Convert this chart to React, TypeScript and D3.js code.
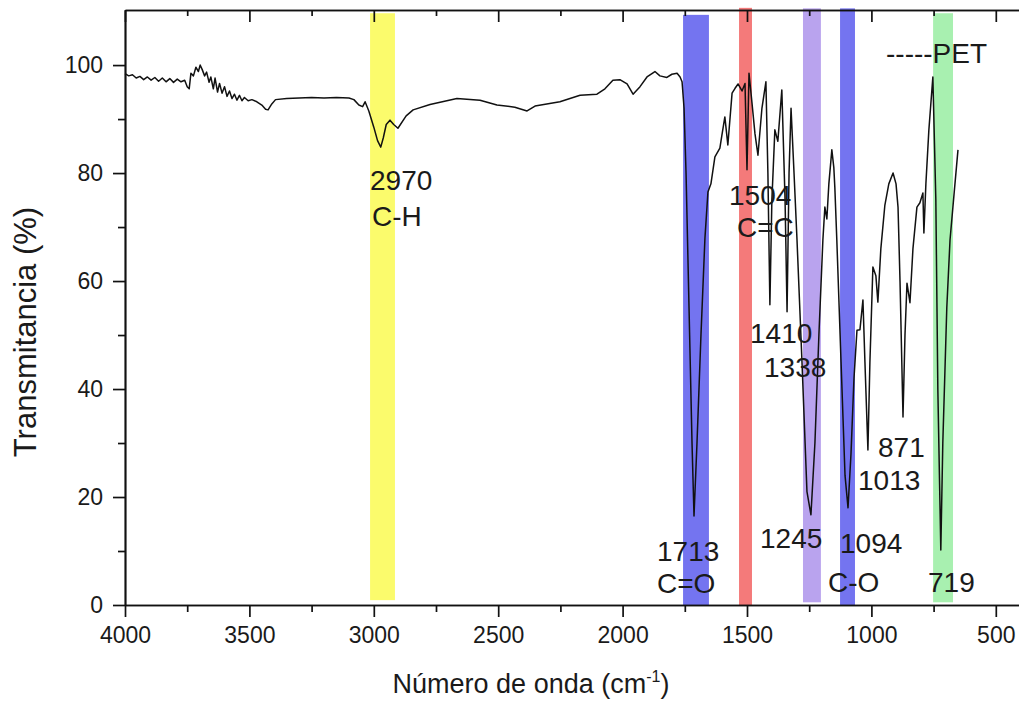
import React, { useEffect, useRef } from "react";
import * as d3 from "d3";

// espectro FTIR del PET: [numero de onda (cm-1), transmitancia (%)]
const spectrum: [number, number][] = [
  [4000, 98.4], [3985, 98.0], [3970, 98.2], [3955, 97.6], [3940, 97.9], [3925, 97.3],
  [3910, 97.8], [3895, 97.2], [3880, 97.7], [3865, 97.0], [3850, 97.6], [3835, 96.9],
  [3820, 97.5], [3805, 96.8], [3790, 97.4], [3775, 96.9], [3760, 97.2], [3750, 96.0],
  [3742, 95.6], [3735, 98.5], [3725, 98.0], [3715, 99.6], [3705, 98.8], [3698, 100.0],
  [3690, 99.2], [3680, 98.0], [3672, 98.7], [3662, 96.8], [3655, 97.8], [3645, 95.6],
  [3638, 97.6], [3628, 95.0], [3620, 96.6], [3610, 94.8], [3600, 96.0], [3590, 94.2],
  [3580, 95.2], [3570, 93.8], [3560, 94.6], [3550, 93.5], [3540, 94.4], [3530, 93.4],
  [3520, 94.0], [3505, 93.4], [3490, 93.6], [3470, 93.2], [3450, 92.6], [3435, 91.8],
  [3425, 91.7], [3410, 92.8], [3395, 93.6], [3350, 93.8], [3300, 93.9], [3250, 94.0],
  [3200, 93.9], [3150, 94.0], [3100, 93.9], [3080, 93.6], [3060, 92.6], [3045, 92.3],
  [3035, 93.2], [3020, 91.5], [3000, 88.5], [2985, 86.0], [2972, 84.8], [2962, 86.5],
  [2950, 89.0], [2935, 89.8], [2920, 89.0], [2903, 88.3], [2870, 90.6], [2842, 91.7],
  [2774, 92.7], [2666, 93.8], [2573, 93.5], [2505, 92.6], [2433, 92.2], [2384, 91.5],
  [2352, 92.4], [2252, 93.2], [2171, 94.4], [2103, 94.6], [2071, 95.6], [2039, 97.2],
  [2011, 97.3], [1982, 96.5], [1958, 94.6], [1930, 96.0], [1902, 97.8], [1870, 98.8],
  [1850, 98.0], [1822, 97.7], [1802, 98.3], [1781, 98.5], [1769, 97.8], [1761, 96.9],
  [1753, 92], [1745, 80], [1733, 55], [1721, 30], [1713, 16.5], [1701, 30],
  [1685, 50], [1669, 68], [1657, 76.5], [1645, 78], [1629, 83], [1609, 84.6],
  [1601, 87], [1589, 90.4], [1577, 85.2], [1560, 94.8], [1548, 95.7], [1536, 96.5],
  [1520, 95.2], [1508, 96.6], [1500, 80.6], [1492, 98.5], [1480, 93], [1468, 87.3],
  [1456, 83.3], [1440, 92], [1424, 96.9], [1416, 80], [1408, 55.6], [1400, 75],
  [1388, 88], [1376, 85.9], [1360, 95.4], [1347, 75], [1339, 54.3], [1331, 80],
  [1323, 92], [1311, 80], [1299, 67.6], [1279, 45], [1259, 21], [1243, 16.7],
  [1227, 30], [1211, 50], [1195, 67.6], [1187, 73.7], [1179, 71.5], [1171, 78],
  [1159, 84.3], [1151, 81], [1147, 77.4], [1139, 67.6], [1122, 45], [1106, 24],
  [1094, 18], [1082, 28], [1070, 42], [1058, 50.9], [1046, 51], [1034, 56.5],
  [1026, 45], [1014, 28.7], [1006, 45], [994, 62.6], [982, 61], [974, 56.1],
  [962, 66], [946, 74], [930, 78], [913, 80], [901, 78], [893, 73.7],
  [885, 60], [873, 34.8], [865, 50], [857, 59.6], [845, 56], [833, 66],
  [817, 73.7], [805, 74.5], [793, 76.3], [789, 68.9], [781, 78], [769, 88],
  [753, 97.8], [741, 75], [733, 40], [721, 10.2], [713, 30], [697, 55],
  [684, 67.6], [668, 76], [652, 84.3],
];

// bandas de color
const bandFrom = [3015, 1757, 1532, 1275, 1126, 752];
const bandTo = [2915, 1653, 1480, 1203, 1066, 672];
const bandColors = ["#fbfb6c", "#7474f0", "#f47a7a", "#b9a3ee", "#7474f0", "#a8f0b0"];
const bandTop = [109.6, 109.3, 110.6, 110.5, 110.5, 109.6];
const bandBottom = [0.9, 0, 0, 0.5, 0, 0.5];

// etiquetas de picos: [texto, x px izquierda, linea base px]
const peakLabels: [string, number, number][] = [
  ["2970", 370, 190], ["C-H", 372, 226],
  ["1504", 729, 205], ["C=C", 737, 237],
  ["1410", 750, 343], ["1338", 764, 377],
  ["871", 878, 457], ["1013", 858, 490],
  ["1713", 657, 561], ["C=O", 657, 593],
  ["1245", 760, 548], ["1094", 840, 553],
  ["C-O", 828, 592], ["719", 928, 592],
  ["-----PET", 886, 63],
];

const xMajor = [4000, 3500, 3000, 2500, 2000, 1500, 1000, 500];
const xMinor = [3750, 3250, 2750, 2250, 1750, 1250, 750];
const yMajor = [0, 20, 40, 60, 80, 100];
const yMinor = [10, 30, 50, 70, 90];

export default function App() {
  const ref = useRef<SVGSVGElement>(null);

  useEffect(() => {
    if (!ref.current) return;
    const W = 1019, H = 706;
    const left = 125, top = 10, bottom = 605;
    const font = "'Liberation Sans', Arial, sans-serif";

    const svg = d3.select(ref.current);
    svg.selectAll("*").remove();
    svg.attr("width", W).attr("height", H);

    const x = d3.scaleLinear().domain([4000, 400]).range([left, left + 3600 / 500 * 124.4]);
    const y = d3.scaleLinear().domain([0, 110.2]).range([bottom, top]);

    // bandas
    svg.selectAll("rect.band")
      .data(bandFrom)
      .enter().append("rect")
      .attr("class", "band")
      .attr("x", (d) => x(d))
      .attr("width", (d, i) => x(bandTo[i]) - x(d))
      .attr("y", (d, i) => y(bandTop[i]))
      .attr("height", (d, i) => y(bandBottom[i]) - y(bandTop[i]))
      .attr("fill", (d, i) => bandColors[i]);

    // espectro
    const line = d3.line<[number, number]>()
      .x((d) => x(d[0]))
      .y((d) => y(d[1]));
    svg.append("path")
      .datum(spectrum)
      .attr("d", line)
      .attr("fill", "none")
      .attr("stroke", "#111")
      .attr("stroke-width", 1.5)
      .attr("stroke-linejoin", "round");

    const styleAxis = (g: any) => {
      g.selectAll("path, line").attr("stroke", "#111").attr("stroke-width", 1.7);
      g.selectAll("text").attr("fill", "#1a1a1a").style("font-family", font).style("font-size", "23px");
    };

    // eje inferior
    svg.append("g")
      .attr("transform", `translate(0,${bottom})`)
      .call(d3.axisBottom(x).tickValues(xMinor).tickSize(7).tickSizeOuter(0).tickFormat(() => ""))
      .call(styleAxis);
    svg.append("g")
      .attr("transform", `translate(0,${bottom})`)
      .call(d3.axisBottom(x).tickValues(xMajor).tickSize(12).tickPadding(10).tickSizeOuter(0).tickFormat(d3.format("d")))
      .call(styleAxis);

    // eje superior (sin etiquetas, marcas hacia dentro)
    svg.append("g")
      .attr("transform", `translate(0,${top})`)
      .call(d3.axisBottom(x).tickValues(xMinor).tickSize(6).tickSizeOuter(0).tickFormat(() => ""))
      .call(styleAxis);
    svg.append("g")
      .attr("transform", `translate(0,${top})`)
      .call(d3.axisBottom(x).tickValues(xMajor).tickSize(12).tickSizeOuter(0).tickFormat(() => ""))
      .call(styleAxis);

    // eje izquierdo
    svg.append("g")
      .attr("transform", `translate(${left},0)`)
      .call(d3.axisLeft(y).tickValues(yMinor).tickSize(7).tickSizeOuter(0).tickFormat(() => ""))
      .call(styleAxis);
    svg.append("g")
      .attr("transform", `translate(${left},0)`)
      .call(d3.axisLeft(y).tickValues(yMajor).tickSize(12).tickPadding(10).tickSizeOuter(0))
      .call(styleAxis);

    // titulos
    const xt = svg.append("text")
      .attr("x", 531).attr("y", 693)
      .attr("text-anchor", "middle")
      .style("font-family", font).style("font-size", "27px")
      .attr("fill", "#1a1a1a");
    xt.append("tspan").text("Número de onda (cm");
    xt.append("tspan").attr("dy", -11).style("font-size", "16px").text("-1");
    xt.append("tspan").attr("dy", 11).text(")");

    svg.append("text")
      .attr("transform", "translate(36,332) rotate(-90)")
      .attr("text-anchor", "middle")
      .style("font-family", font).style("font-size", "31px")
      .attr("fill", "#1a1a1a")
      .text("Transmitancia (%)");

    // etiquetas de picos
    svg.selectAll("text.peak")
      .data(peakLabels)
      .enter().append("text")
      .attr("class", "peak")
      .attr("x", (d) => d[1])
      .attr("y", (d) => d[2])
      .style("font-family", font).style("font-size", "28px")
      .attr("fill", "#1a1a1a")
      .text((d) => d[0]);
  }, []);

  return <svg ref={ref} style={{ position: "absolute", left: 0, top: 0, background: "#fff" }} />;
}
